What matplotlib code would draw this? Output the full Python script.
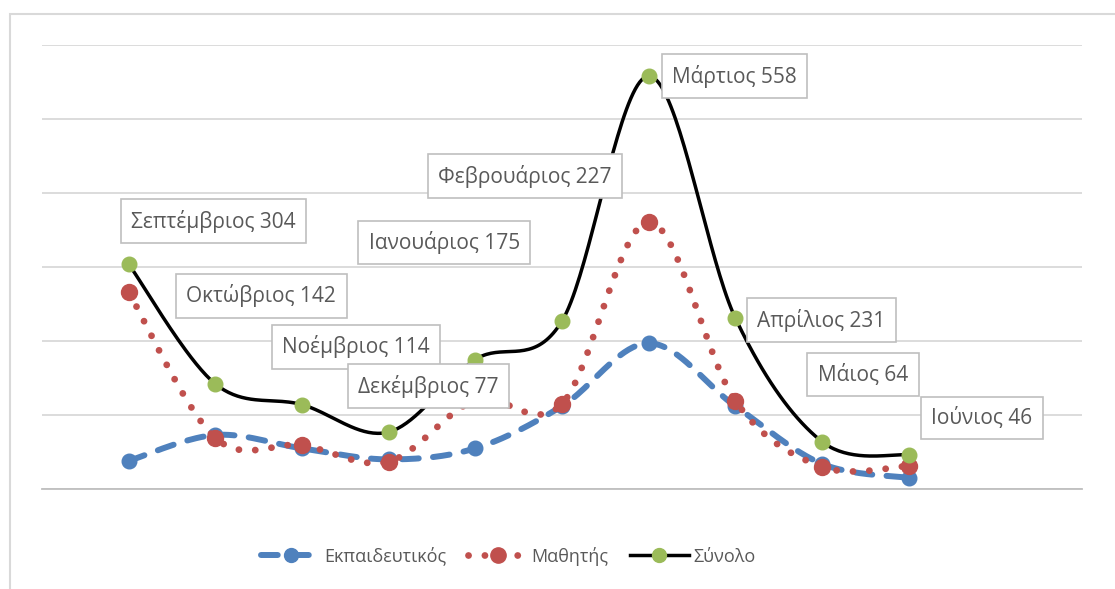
import numpy as np
import matplotlib
matplotlib.use("Agg")
import matplotlib.pyplot as plt
from matplotlib.patches import Rectangle

plt.rcParams["font.family"] = ["Open Sans", "DejaVu Sans"]

# Data
months = ["Σεπτέμβριος", "Οκτώβριος", "Νοέμβριος", "Δεκέμβριος", "Ιανουάριος",
          "Φεβρουάριος", "Μάρτιος", "Απρίλιος", "Μάιος", "Ιούνιος"]
teachers = [38, 73, 55, 40, 55, 112, 197, 112, 34, 15]
students = [266, 69, 59, 37, 120, 115, 361, 119, 30, 31]
total = [304, 142, 114, 77, 175, 227, 558, 231, 64, 46]

# label offsets from the point (pixels)
label_offsets = [(85, 43), (46, 88), (54, 58), (40, 46), (-31, 117),
                 (-37, 145), (86, 0), (86, -2), (41, 67), (73, 37)]

BLUE = "#4F81BD"
RED = "#C0504D"
GREEN = "#9BBB59"
TEXT = "#595959"
GRID = "#D9D9D9"


def smooth(x, y, n=40):
    # Catmull-Rom curve through the points, like Excel's smoothed line
    x = np.asarray(x, float)
    y = np.asarray(y, float)
    px = np.concatenate([[x[0]], x, [x[-1]]])
    py = np.concatenate([[y[0]], y, [y[-1]]])
    xs, ys = [], []
    t = np.linspace(0, 1, n)
    for i in range(1, len(px) - 2):
        for p, out in ((px, xs), (py, ys)):
            p0, p1, p2, p3 = p[i - 1], p[i], p[i + 1], p[i + 2]
            out.extend(0.5 * ((2 * p1) + (-p0 + p2) * t
                              + (2 * p0 - 5 * p1 + 4 * p2 - p3) * t ** 2
                              + (-p0 + 3 * p1 - 3 * p2 + p3) * t ** 3))
    return np.array(xs), np.array(ys)


x = np.arange(len(months))

fig = plt.figure(figsize=(11.15, 5.89), dpi=100)
ax = fig.add_axes([42 / 1115, 1 - 489 / 589, 1040 / 1115, 444 / 589])

# chart border (cropped on the right and bottom)
fig.patches.append(Rectangle((10 / 1115, -0.1), 1.2, 1.1 - 14 / 589,
                             transform=fig.transFigure, fill=False,
                             edgecolor=GRID, linewidth=1.5))

blue_style = dict(color=BLUE, lw=4.3, linestyle=(0, (2.8, 2.4)),
                  dash_capstyle="round")
red_style = dict(color=RED, lw=4.9, linestyle=(0, (0.01, 2.4)),
                 dash_capstyle="round")

# Εκπαιδευτικός
sx, sy = smooth(x, teachers)
ax.plot(sx, sy, zorder=3, **blue_style)
ax.plot(x, teachers, "o", color=BLUE, ms=10.5, zorder=3)

# Μαθητής
sx, sy = smooth(x, students)
ax.plot(sx, sy, zorder=4, **red_style)
ax.plot(x, students, "o", color=RED, ms=11.5, zorder=4,
        markevery=[0, 1, 2, 3, 5, 6, 7, 8, 9])

# Σύνολο
sx, sy = smooth(x, total)
ax.plot(sx, sy, color="black", lw=2.5, zorder=5)
ax.plot(x, total, "o", color=GREEN, ms=10.5, zorder=6)

# data labels
for i, (name, val) in enumerate(zip(months, total)):
    ax.annotate(f"{name} {val}", (x[i], val), xytext=label_offsets[i],
                textcoords="offset pixels", ha="center", va="center",
                fontsize=15, color=TEXT, zorder=7,
                bbox=dict(boxstyle="square,pad=0.5", fc="white",
                          ec="#BFBFBF", lw=1.2))

ax.set_xlim(-1, 11)
ax.set_ylim(0, 600)
ax.set_yticks(range(0, 700, 100))
ax.grid(axis="y", color=GRID, lw=1.3)
ax.set_axisbelow(True)
ax.tick_params(left=False, bottom=False, labelleft=False, labelbottom=False)
for s in ["top", "right", "left"]:
    ax.spines[s].set_visible(False)
ax.spines["bottom"].set_color("#BFBFBF")
ax.spines["bottom"].set_linewidth(1.3)

# legend
h1 = plt.Line2D([], [], marker="o", ms=10, **blue_style)
h2 = plt.Line2D([], [], marker="o", ms=11, **red_style)
h3 = plt.Line2D([], [], color="black", lw=2.5, marker="o", ms=10,
                markerfacecolor=GREEN, markeredgecolor=GREEN)
leg = fig.legend([h1, h2, h3], ["Εκπαιδευτικός", "Μαθητής", "Σύνολο"],
                 loc="center", bbox_to_anchor=(508 / 1115, 1 - 556 / 589),
                 ncol=3, frameon=False, fontsize=13, handlelength=3.3,
                 handletextpad=0.2, columnspacing=1.2)
for t in leg.get_texts():
    t.set_color(TEXT)

fig.savefig("out.png", dpi=100, facecolor="white")
